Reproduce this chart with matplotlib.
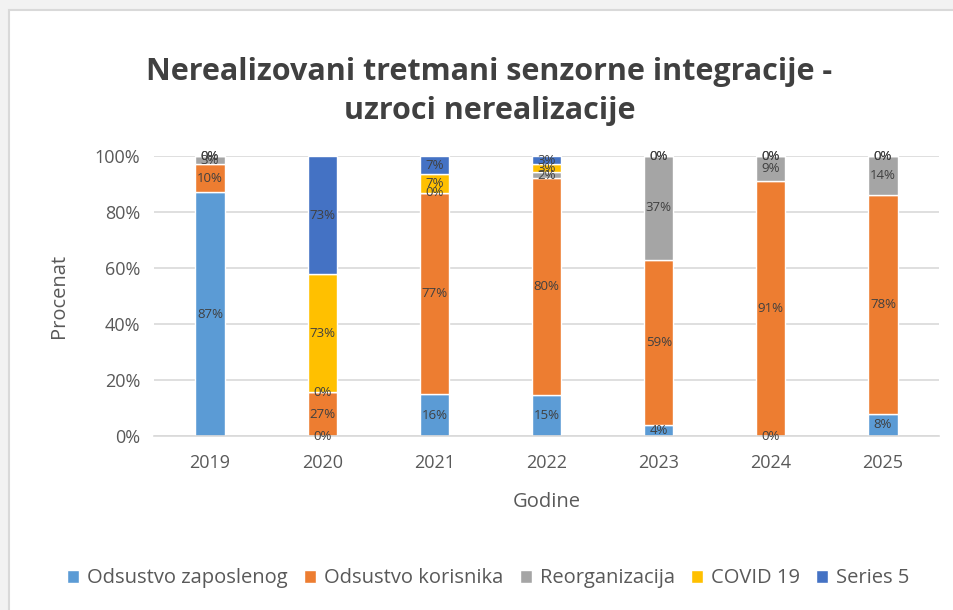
import matplotlib.pyplot as plt
import matplotlib.patches as patches
import numpy as np

years = ['2019', '2020', '2021', '2022', '2023', '2024', '2025']
series_names = ['Odsustvo zaposlenog', 'Odsustvo korisnika', 'Reorganizacija', 'COVID 19', 'Series 5']
odsustvo_zaposlenog = [87, 0, 16, 15, 4, 0, 8]
odsustvo_korisnika = [10, 27, 77, 80, 59, 91, 78]
reorganizacija = [3, 0, 0, 2, 37, 9, 14]
covid = [0, 73, 7, 3, 0, 0, 0]
series5 = [0, 73, 7, 3, 0, 0, 0]
colors = ['#5B9BD5', '#ED7D31', '#A5A5A5', '#FFC000', '#4472C4']

plt.rcParams['font.family'] = ['Open Sans', 'DejaVu Sans']

data = np.array([odsustvo_zaposlenog, odsustvo_korisnika, reorganizacija, covid, series5], dtype=float)
totals = data.sum(axis=0)
shares = data / totals * 100

fig = plt.figure(figsize=(9.54, 6.10), dpi=100, facecolor='#f2f2f2')
frame = patches.Rectangle((9/954, -0.1), 1.2, 1 - 10/610 + 0.1, transform=fig.transFigure,
                          facecolor='white', edgecolor='#d9d9d9', linewidth=1.5, zorder=-5)
fig.patches.append(frame)

ax = fig.add_axes([0.1614, 0.2852, 0.823, 0.459])
ax.set_facecolor('none')
x = np.arange(len(years))
bottom = np.zeros(len(years))
for i, name in enumerate(series_names):
    ax.bar(x, shares[i], 0.26, bottom=bottom, color=colors[i], edgecolor='white',
           linewidth=1, label=name, zorder=2)
    for j in range(len(years)):
        ax.text(x[j], bottom[j] + shares[i][j] / 2, f"{int(data[i][j])}%", ha='center', va='center',
                fontsize=9.5, color='#404040', zorder=3)
    bottom += shares[i]

ax.set_xlim(-0.5, len(years) - 0.5)
ax.set_ylim(0, 100)
ax.set_yticks(range(0, 101, 20))
ax.set_yticklabels([f"{v}%" for v in range(0, 101, 20)])
ax.set_xticks(x)
ax.set_xticklabels(years)
ax.grid(axis='y', color='#d9d9d9', linewidth=1.2, zorder=0)
for s in ['top', 'right', 'left']:
    ax.spines[s].set_visible(False)
ax.spines['bottom'].set_color('#d9d9d9')
ax.spines['bottom'].set_linewidth(1.2)
ax.tick_params(length=0, labelsize=13, labelcolor='#595959')
ax.tick_params(axis='x', pad=13)
ax.tick_params(axis='y', pad=10)
ax.set_xlabel('Godine', fontsize=14.5, color='#595959', labelpad=14)
ax.set_ylabel('Procenat', fontsize=14.5, color='#595959', labelpad=18)

fig.text(0.513, 0.85, 'Nerealizovani tretmani senzorne integracije -\nuzroci nerealizacije',
         ha='center', va='center', fontsize=22, fontweight='bold', color='#404040', linespacing=1.4)

fig.legend(loc='center', bbox_to_anchor=(0.512, 0.052), ncol=5, frameon=False, fontsize=14.5,
           handlelength=0.6, handleheight=0.6, handletextpad=0.4, columnspacing=0.8,
           labelcolor='#595959')

plt.savefig('out.png', dpi=100, facecolor=fig.get_facecolor())
